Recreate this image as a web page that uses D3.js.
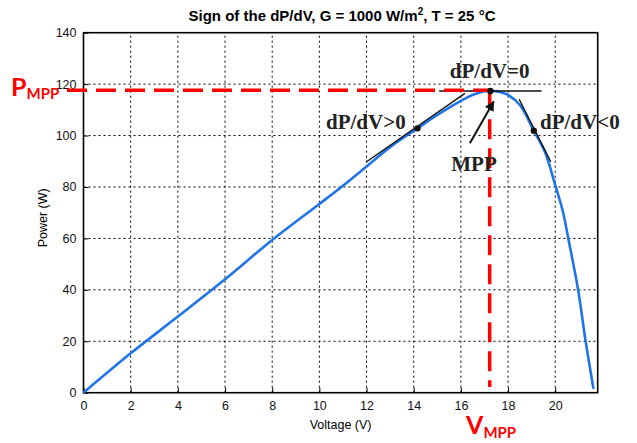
<!DOCTYPE html>
<html>
<head>
<meta charset="utf-8">
<script src="https://cdn.jsdelivr.net/npm/d3@7"></script>
<style>
  body { margin: 0; background: #fff; }
  svg text { font-family: "Liberation Sans", Arial, sans-serif; }
  .grid line { stroke: #000; stroke-width: 1; stroke-dasharray: 2,3; }
  .axis path { display: none; }
  .axis line { stroke: #000; }
  .axis text { font-size: 12.5px; fill: #111; }
  .note { font-family: "Liberation Serif", "Times New Roman", serif !important; font-weight: bold; font-size: 21px; fill: #222; }
  .red { font-family: Lato, "Liberation Sans", sans-serif !important; font-weight: bold; fill: #ff0000; }
</style>
</head>
<body>
<svg id="chart"></svg>
<script>
// P-V curve
const voltage = [0, 2, 4, 6, 8, 10, 11, 12, 13, 14.16, 15, 16, 16.6, 17.25, 17.7, 18, 18.5, 19.09, 19.56, 20.02, 20.33, 20.57, 20.97, 21.28, 21.62];
const power   = [0, 15.3, 29.6, 44.1, 59.4, 73.4, 80.5, 88, 95.5, 102.8, 108, 113.5, 116.2, 117.4, 116.8, 115.8, 111.9, 101.9, 93.7, 80.1, 70.2, 59.2, 40, 20.5, 1.5];

const xTicks = [0, 2, 4, 6, 8, 10, 12, 14, 16, 18, 20];
const yTicks = [0, 20, 40, 60, 80, 100, 120, 140];

// tangent segments [[v0,p0],[v1,p1]]
const tangentPos  = [[12.0, 89.8], [16.17, 116.4]];
const tangentZero = [[15.08, 117.3], [19.42, 117.3]];
const tangentNeg  = [[18.47, 114.1], [19.81, 89.8]];
const dots = [[14.16, 102.8], [17.25, 117.3], [19.09, 101.9]];

const vMpp = 17.22;
const pMpp = 117.6;

const width = 637, height = 443;
const margin = { left: 83.5, right: 39.3, top: 32.7, bottom: 50.3 };

const svg = d3.select("#chart").attr("width", width).attr("height", height);

const x = d3.scaleLinear().domain([0, 21.8]).range([margin.left, width - margin.right]);
const y = d3.scaleLinear().domain([0, 140]).range([height - margin.bottom, margin.top]);

// grid
svg.append("g").attr("class", "grid")
  .selectAll("line.v").data(xTicks.slice(1)).join("line")
  .attr("x1", d => x(d)).attr("x2", d => x(d))
  .attr("y1", y(0)).attr("y2", y(140));
svg.append("g").attr("class", "grid")
  .selectAll("line.h").data(yTicks.slice(1, -1)).join("line")
  .attr("x1", x(0)).attr("x2", x(21.8))
  .attr("y1", d => y(d)).attr("y2", d => y(d));

// axes, MATLAB style ticks inside
svg.append("g").attr("class", "axis")
  .attr("transform", `translate(0,${y(0)})`)
  .call(d3.axisBottom(x).tickValues(xTicks).tickSize(-5).tickPadding(8));
svg.append("g").attr("class", "axis")
  .attr("transform", `translate(${x(0)},0)`)
  .call(d3.axisLeft(y).tickValues(yTicks).tickSize(-5).tickPadding(7));

// frame
svg.append("rect")
  .attr("x", x(0)).attr("y", y(140))
  .attr("width", x(21.8) - x(0)).attr("height", y(0) - y(140))
  .attr("fill", "none").attr("stroke", "#000").attr("stroke-width", 1.6);

// curve
const pts = voltage.map((v, i) => [v, power[i]]);
const line = d3.line().x(d => x(d[0])).y(d => y(d[1]));
svg.append("path")
  .datum(pts)
  .attr("d", line.curve(d3.curveCatmullRom.alpha(0.5)))
  .attr("fill", "none").attr("stroke", "#1f74e8").attr("stroke-width", 2.6);

// tangents
const straight = d3.line().x(d => x(d[0])).y(d => y(d[1]));
[tangentPos, tangentZero, tangentNeg].forEach(t => {
  svg.append("path").attr("d", straight(t))
    .attr("stroke", "#111").attr("stroke-width", 1.4).attr("fill", "none");
});

// red MPP guides
svg.append("line")
  .attr("x1", 67).attr("x2", x(vMpp))
  .attr("y1", y(pMpp)).attr("y2", y(pMpp))
  .attr("stroke", "#ff0000").attr("stroke-width", 3.5).attr("stroke-dasharray", "20,9");
svg.append("line")
  .attr("x1", x(vMpp)).attr("x2", x(vMpp))
  .attr("y1", y(pMpp)).attr("y2", 387)
  .attr("stroke", "#ff0000").attr("stroke-width", 3.5).attr("stroke-dasharray", "20,9");

svg.selectAll("circle.dot").data(dots).join("circle")
  .attr("cx", d => x(d[0])).attr("cy", d => y(d[1])).attr("r", 3.2).attr("fill", "#111");

// arrow to MPP
svg.append("defs").append("marker")
  .attr("id", "head").attr("viewBox", "0 0 10 10")
  .attr("refX", 9).attr("refY", 5)
  .attr("markerWidth", 5).attr("markerHeight", 5).attr("orient", "auto")
  .append("path").attr("d", "M0,0L10,5L0,10z").attr("fill", "#111");
svg.append("line")
  .attr("x1", x(16.38)).attr("y1", y(97))
  .attr("x2", x(17.39)).attr("y2", y(113.2))
  .attr("stroke", "#111").attr("stroke-width", 2).attr("marker-end", "url(#head)");

// annotations
svg.append("text").attr("class", "note").attr("x", x(17.22)).attr("y", 78)
  .attr("text-anchor", "middle").text("dP/dV=0");
svg.append("text").attr("class", "note").attr("x", 326).attr("y", 129).text("dP/dV>0");
svg.append("text").attr("class", "note").attr("x", 540).attr("y", 129).text("dP/dV<0");
svg.append("text").attr("class", "note").attr("x", 474).attr("y", 171)
  .attr("text-anchor", "middle").text("MPP");

const pLab = svg.append("text").attr("class", "red").attr("x", 11).attr("y", 96);
pLab.append("tspan").attr("font-size", 25).text("P");
pLab.append("tspan").attr("font-size", 15).attr("dy", 3).text("MPP");

const vLab = svg.append("text").attr("class", "red").attr("x", 466).attr("y", 434);
vLab.append("tspan").attr("font-size", 25).text("V");
vLab.append("tspan").attr("font-size", 15).attr("dy", 4).text("MPP");

// titles
const title = svg.append("text").attr("x", 342).attr("y", 21)
  .attr("text-anchor", "middle").attr("font-size", 15).attr("font-weight", "bold");
title.append("tspan").text("Sign of the dP/dV, G = 1000 W/m");
title.append("tspan").attr("font-size", 10).attr("dy", -6).text("2");
title.append("tspan").attr("dy", 6).text(", T = 25 °C");

svg.append("text").attr("x", x(10.9)).attr("y", 429)
  .attr("text-anchor", "middle").attr("font-size", 12.5).text("Voltage (V)");
svg.append("text").attr("transform", `translate(47,${y(68)}) rotate(-90)`)
  .attr("text-anchor", "middle").attr("font-size", 12.5).text("Power (W)");
</script>
</body>
</html>
